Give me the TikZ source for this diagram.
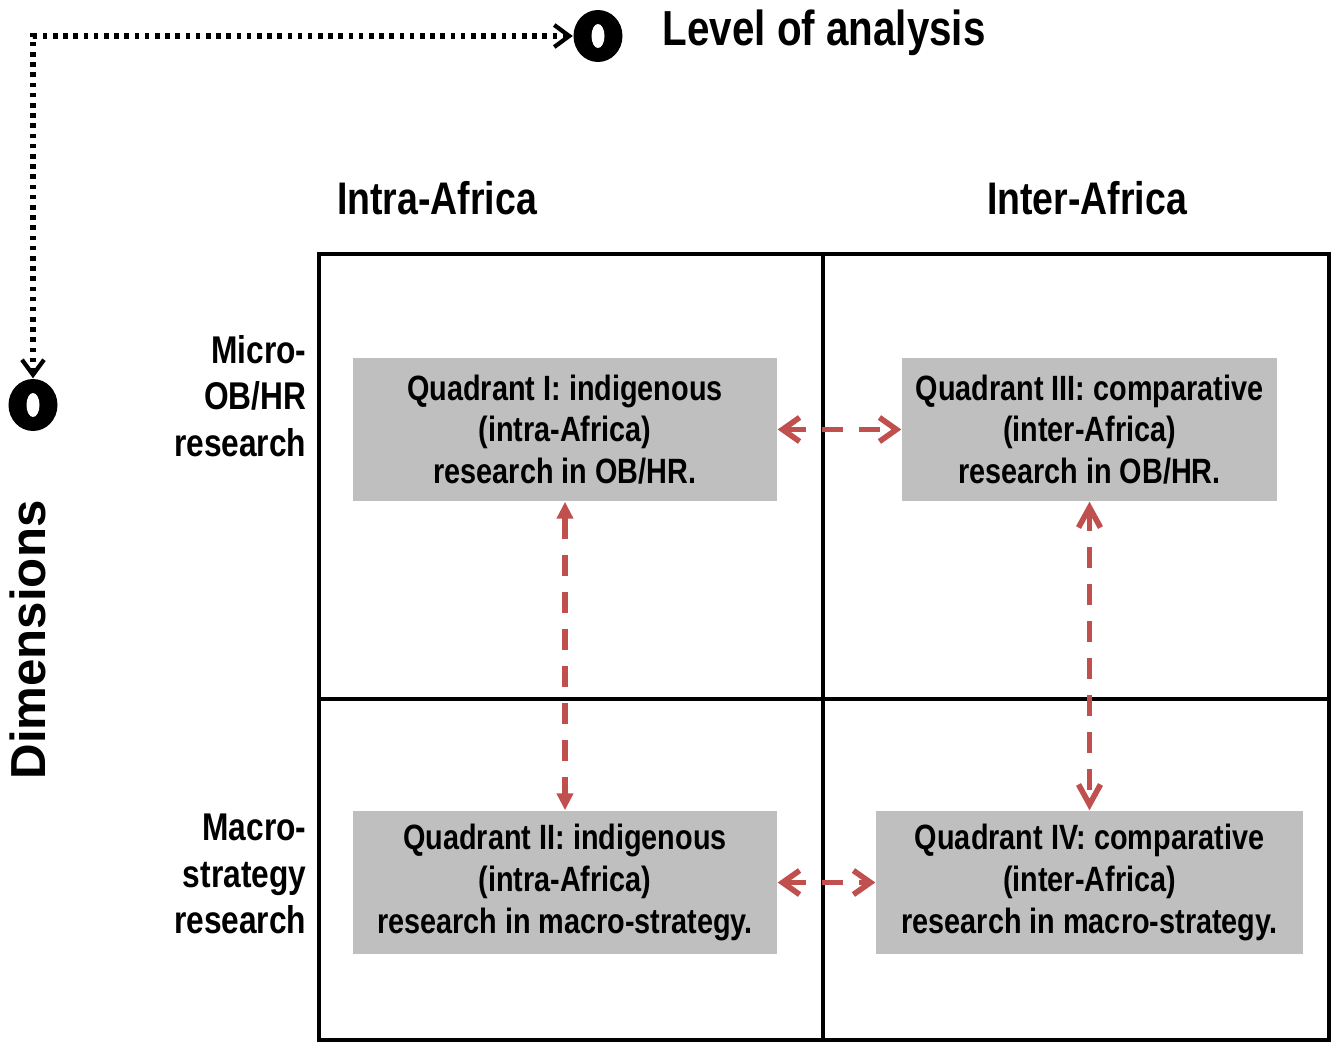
\documentclass[tikz,border=0pt]{standalone}
\usepackage{fontspec}
\setmainfont{Liberation Sans}
\newfontfamily\narrowsf{Liberation Sans}[FakeStretch=0.82]
\usepackage{tikz}
\usetikzlibrary{positioning, calc, arrows.meta, shapes.geometric}

\definecolor{linkred}{RGB}{192,80,77}
\definecolor{quadgray}{RGB}{191,191,191}

\tikzset{
  quadbox/.style={fill=quadgray, minimum height=1.43cm, inner sep=0pt, align=center,
    font=\narrowsf\bfseries\fontsize{10}{11.9}\selectfont},
  rowlabel/.style={anchor=east, align=right, inner sep=0pt,
    font=\narrowsf\bfseries\fontsize{11}{13.3}\selectfont},
  colhead/.style={inner sep=0pt, font=\narrowsf\bfseries\fontsize{13}{15}\selectfont},
  ringmark/.style={ellipse, fill=black, minimum width=0.49cm, minimum height=0.52cm, inner sep=0pt,
    path picture={\fill[white] (path picture bounding box.center) ellipse (0.065 and 0.12);}},
  linkarrow/.style={linkred, line width=1.6pt, dash pattern=on 0.21cm off 0.16cm},
}

\begin{document}
\begin{tikzpicture}
  \useasboundingbox (0,0) rectangle (13.31,-10.42);

  % 軸の設定
  \node[ringmark] (levelmark) at (5.98,-0.36) {};
  \node[ringmark] (dimmark) at (0.33,-4.05) {};
  \draw[line width=1.5pt, dash pattern=on 1.3pt off 1.6pt,
        {Straight Barb[length=0.15cm,width=0.22cm,line width=1.2pt]}-{Straight Barb[length=0.15cm,width=0.22cm,line width=1.2pt]}]
    (dimmark.north) |- (levelmark.west);
  \node[anchor=west, inner sep=0pt, font=\narrowsf\bfseries\fontsize{14}{16}\selectfont]
    (level) at (6.62,-0.33) {Level of analysis};
  \node[rotate=90, inner sep=0pt, font=\bfseries\fontsize{14}{16}\selectfont]
    (dims) at (0.28,-6.40) {Dimensions};

  % 枠の描画
  \draw[line width=1.4pt] (3.19,-2.54) rectangle (13.29,-10.40);
  \draw[line width=1.4pt] (8.23,-2.54) -- (8.23,-10.40);
  \draw[line width=1.4pt] (3.19,-6.99) -- (13.29,-6.99);

  % ラベルの追加
  \node[colhead] (intra) at (4.37,-1.98) {Intra-Africa};
  \node[colhead] (inter) at (10.87,-1.98) {Inter-Africa};
  \node[rowlabel] (micro) at (3.07,-3.96) {Micro-\\OB/HR\\research};
  \node[rowlabel] (macro) at (3.07,-8.74) {Macro-\\strategy\\research};

  % 象限
  \node[quadbox, minimum width=4.24cm] (q1) at (5.65,-4.295)
    {Quadrant I: indigenous\\(intra-Africa)\\research in OB/HR.};
  \node[quadbox, minimum width=3.75cm] (q3) at (10.895,-4.295)
    {Quadrant III: comparative\\(inter-Africa)\\research in OB/HR.};
  \node[quadbox, minimum width=4.24cm] (q2) at (5.65,-8.825)
    {Quadrant II: indigenous\\(intra-Africa)\\research in macro-strategy.};
  \node[quadbox, minimum width=4.27cm] (q4) at (10.895,-8.825)
    {Quadrant IV: comparative\\(inter-Africa)\\research in macro-strategy.};

  % 矢印の描画
  \draw[linkarrow, {Straight Barb[length=0.17cm,width=0.24cm]}-{Straight Barb[length=0.17cm,width=0.24cm]}]
    (q1.east) -- (q3.west);
  \draw[linkarrow, {Straight Barb[length=0.17cm,width=0.24cm]}-{Straight Barb[length=0.17cm,width=0.24cm]}]
    (q2.east) -- (q4.west);
  \draw[linkarrow, {Triangle[length=0.17cm,width=0.16cm]}-{Triangle[length=0.17cm,width=0.16cm]}]
    (q1.south) -- (q2.north);
  \draw[linkarrow, {Straight Barb[length=0.2cm,width=0.22cm]}-{Straight Barb[length=0.2cm,width=0.22cm]}]
    (q3.south) -- (q4.north);
\end{tikzpicture}
\end{document}
